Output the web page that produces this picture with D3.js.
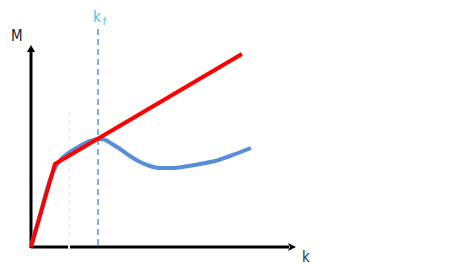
<!DOCTYPE html>
<html>
<head>
<meta charset="utf-8">
<script src="https://cdn.jsdelivr.net/npm/d3@7"></script>
<style>
  body { margin: 0; background: #fff; }
  svg { display: block; }
</style>
</head>
<body>
<script>
var width = 462;
var height = 278;

// red bilinear idealisation (k, M)
var bilinear = [[0, 0], [0.9, 4.15], [7.93, 9.65]];
// blue measured curve (k, M)
var measured = [
  [0, 0.05], [0.34, 1.6], [0.71, 3.35], [0.9, 3.95], [1.17, 4.45],
  [1.47, 4.75], [1.84, 5.05], [2.22, 5.3], [2.52, 5.4], [2.74, 5.38],
  [3.05, 5.15], [3.35, 4.9], [3.72, 4.55], [4.1, 4.25], [4.47, 4.05],
  [4.85, 3.95], [5.3, 3.95], [5.79, 4.02], [6.35, 4.15], [6.92, 4.3],
  [7.48, 4.55], [8.27, 4.95]
];
var kf = 2.52;      // k_f marker
var kFaint = 1.43;  // faint dashed marker
var axisLabels = ["M", "k"];

var x = d3.scaleLinear().domain([0, 10]).range([31, 297]);
var y = d3.scaleLinear().domain([0, 10]).range([247, 47]);

var svg = d3.select("body")
    .append("svg")
    .attr("width", width)
    .attr("height", height);

var font = "'Liberation Sans Narrow', 'DejaVu Sans Condensed', sans-serif";

// faint dashed line
svg.append("line")
    .attr("x1", x(kFaint)).attr("x2", x(kFaint))
    .attr("y1", 112).attr("y2", y(0) + 2)
    .style("stroke", "#f3f3f3")
    .style("stroke-width", 2)
    .style("stroke-dasharray", "5,3");

// axes
svg.append("line")
    .attr("x1", x(0)).attr("y1", y(0) + 1)
    .attr("x2", x(0)).attr("y2", 52)
    .style("stroke", "black")
    .style("stroke-width", 3);
svg.append("path")
    .attr("d", "M" + x(0) + ",45 L" + (x(0) - 4) + ",52 L" + (x(0) + 4) + ",52 Z")
    .style("fill", "black");

svg.append("line")
    .attr("x1", x(0)).attr("y1", y(0))
    .attr("x2", 289).attr("y2", y(0))
    .style("stroke", "black")
    .style("stroke-width", 3);
svg.append("path")
    .attr("d", "M296," + y(0) + " L288," + (y(0) - 4) + " L290," + y(0) + " L288," + (y(0) + 4) + " Z")
    .style("fill", "black");

// gap in x axis where faint line crosses
svg.append("rect")
    .attr("x", x(kFaint) - 1).attr("y", y(0) - 2)
    .attr("width", 2).attr("height", 4)
    .style("fill", "#f4f4f4");

// k_f dashed line
svg.append("line")
    .attr("x1", x(kf)).attr("x2", x(kf))
    .attr("y1", 29).attr("y2", y(0))
    .style("stroke", "#3f86d4")
    .style("stroke-width", 1.3)
    .style("stroke-dasharray", "6,4");

var line = d3.line()
    .x(function (d) { return x(d[0]); })
    .y(function (d) { return y(d[1]); });

svg.append("path")
    .datum(measured)
    .attr("d", line.curve(d3.curveMonotoneX))
    .style("fill", "none")
    .style("stroke", "#568fd7")
    .style("stroke-width", 4);

svg.append("path")
    .datum(bilinear)
    .attr("d", line.curve(d3.curveLinear))
    .style("fill", "none")
    .style("stroke", "#ff0000")
    .style("stroke-width", 4)
    .style("stroke-linejoin", "round");

// labels
svg.append("text")
    .attr("x", 11).attr("y", 41)
    .style("font-family", font)
    .style("font-size", "15px")
    .style("fill", "#222")
    .text(axisLabels[0]);

svg.append("text")
    .attr("x", 302).attr("y", 262)
    .style("font-family", font)
    .style("font-size", "15px")
    .style("fill", "#333")
    .text(axisLabels[1]);

var kfText = svg.append("text")
    .attr("x", 93).attr("y", 22)
    .style("font-family", font)
    .style("font-size", "15px")
    .style("fill", "#45c4f2");
kfText.append("tspan").text("k");
kfText.append("tspan")
    .attr("dx", 2).attr("dy", 3)
    .style("font-size", "10px")
    .text("f");
</script>
</body>
</html>
